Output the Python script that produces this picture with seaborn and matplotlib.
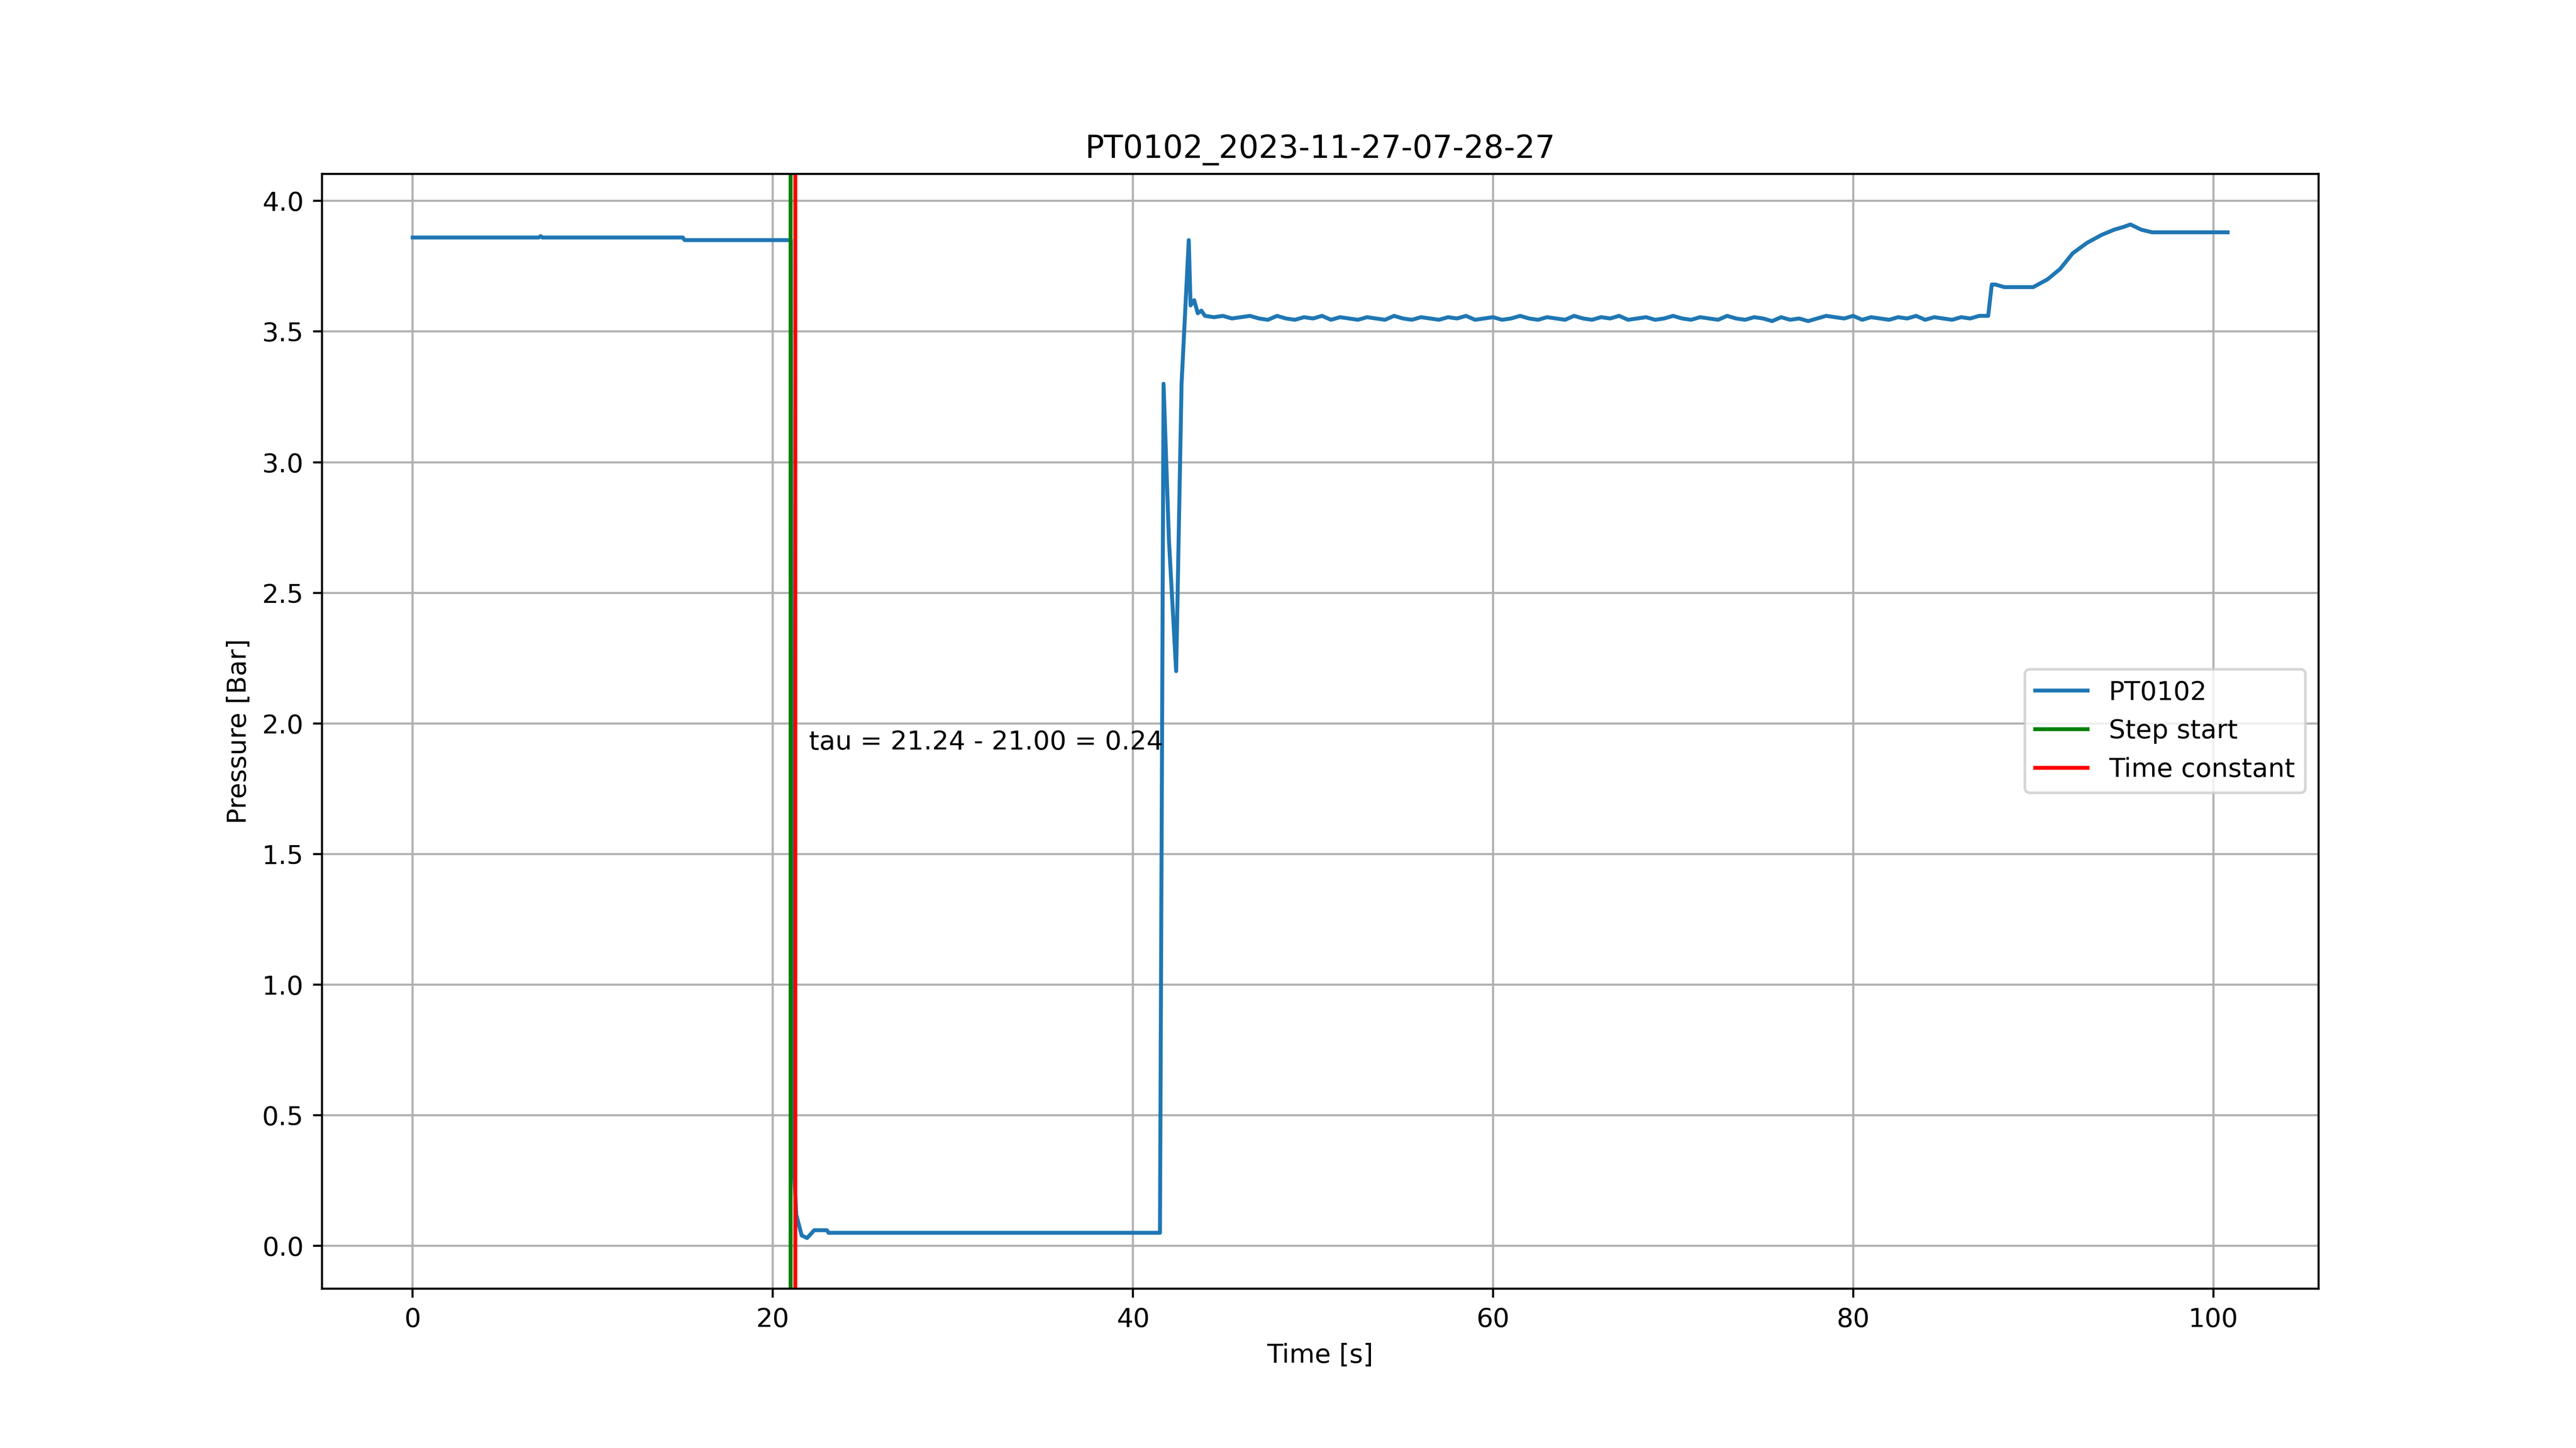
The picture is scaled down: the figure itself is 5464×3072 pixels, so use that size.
import numpy as np
import pandas as pd
import seaborn as sns
import matplotlib
matplotlib.use("Agg")
import matplotlib.pyplot as plt

title = "PT0102_2023-11-27-07-28-27"
step_start = 21.00
tau_time = 21.24

# hand-read samples of the pressure trace
t_head = [0, 7.0, 7.1, 7.2, 15.0, 15.1, 15.3, 21.0, 21.05, 21.1, 21.3, 21.6, 21.9, 22.3, 23.0, 23.1, 41.5,
          41.7, 42.0, 42.4, 42.7, 43.1, 43.2, 43.4, 43.6, 43.8]
p_head = [3.86, 3.86, 3.865, 3.86, 3.86, 3.85, 3.85, 3.85, 1.5, 0.4, 0.12, 0.04, 0.03, 0.06, 0.06, 0.05, 0.05,
          3.30, 2.70, 2.20, 3.30, 3.85, 3.60, 3.62, 3.57, 3.58]
t_mid = list(np.arange(44, 87.5, 0.5))
p_mid = [3.56, 3.555, 3.56, 3.55, 3.555, 3.56, 3.55, 3.545, 3.56, 3.55, 3.545, 3.555, 3.55, 3.56, 3.545,
         3.555, 3.55, 3.545, 3.555, 3.55, 3.545, 3.56, 3.55, 3.545, 3.555, 3.55, 3.545, 3.555, 3.55, 3.56,
         3.545, 3.55, 3.555, 3.545, 3.55, 3.56, 3.55, 3.545, 3.555, 3.55, 3.545, 3.56, 3.55, 3.545, 3.555,
         3.55, 3.56, 3.545, 3.55, 3.555, 3.545, 3.55, 3.56, 3.55, 3.545, 3.555, 3.55, 3.545, 3.56, 3.55,
         3.545, 3.555, 3.55, 3.54, 3.555, 3.545, 3.55, 3.54, 3.55, 3.56, 3.555, 3.55, 3.56, 3.545, 3.555,
         3.55, 3.545, 3.555, 3.55, 3.56, 3.545, 3.555, 3.55, 3.545, 3.555, 3.55, 3.56]
t_tail = [87.5, 87.7, 87.9, 88.4, 90.0, 90.8, 91.5, 92.2, 93.0, 93.8, 94.5, 95.0, 95.4, 96.0, 96.6, 100.8]
p_tail = [3.56, 3.68, 3.68, 3.67, 3.67, 3.70, 3.74, 3.80, 3.84, 3.87, 3.89, 3.90, 3.91, 3.89, 3.88, 3.88]

n = min(len(t_mid), len(p_mid))
df = pd.DataFrame({"Time": t_head + t_mid[:n] + t_tail, "Pressure": p_head + p_mid[:n] + p_tail})

fig, ax = plt.subplots(figsize=(13.66, 7.68))
sns.lineplot(data=df, x="Time", y="Pressure", ax=ax, label="PT0102", color="#1f77b4", estimator=None, sort=False)
ax.axvline(step_start, color="green", label="Step start")
ax.axvline(tau_time, color="red", label="Time constant")
ax.text(22, 1.9, f"tau = {tau_time:.2f} - {step_start:.2f} = {tau_time - step_start:.2f}")
ax.set_title(title)
ax.set_xlabel("Time [s]")
ax.set_ylabel("Pressure [Bar]")
ax.grid(True)
ax.legend(loc="center right")
fig.savefig("out.png", dpi=400)
